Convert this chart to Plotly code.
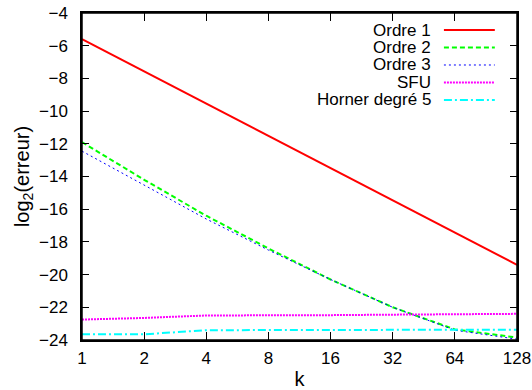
import plotly.graph_objects as go

k = [1, 2, 4, 8, 16, 32, 64, 128]
ordre1 = [-5.6, -7.57, -9.54, -11.51, -13.48, -15.45, -17.42, -19.4]
ordre2 = [-11.9, -14.2, -16.4, -18.4, -20.3, -22.0, -23.35, -23.85]
ordre3 = [-12.45, -14.55, -16.6, -18.5, -20.3, -22.0, -23.4, -23.95]
sfu = [-22.75, -22.65, -22.5, -22.5, -22.48, -22.45, -22.42, -22.4]
horner = [-23.65, -23.65, -23.4, -23.38, -23.38, -23.38, -23.38, -23.38]

names = ["Ordre 1", "Ordre 2", "Ordre 3", "SFU", "Horner degré 5"]
series = [ordre1, ordre2, ordre3, sfu, horner]
colors = ["#ff0000", "#00ff00", "#0000ff", "#ff00ff", "#00ffff"]
dashes = ["solid", "5px,3px", "2px,3px", "2px,1px", "8px,3px,2px,3px"]
widths = [2, 2, 1, 2, 2]

tick_vals = [1, 2, 4, 8, 16, 32, 64, 128]
tick_text = ["1", "2", "4", "8", "16", "32", "64", "128"]
y_ticks = [-24, -22, -20, -18, -16, -14, -12, -10, -8, -6, -4]

fig = go.Figure()
for name, ys, c, d, w in zip(names, series, colors, dashes, widths):
    fig.add_trace(go.Scatter(x=k, y=ys, mode="lines", name=name,
                             line=dict(color=c, dash=d, width=w), showlegend=False))

# manual gnuplot-style legend (text left, sample right)
leg_top = 0.948
step = 0.0535
for i, (name, c, d, w) in enumerate(zip(names, colors, dashes, widths)):
    yy = leg_top - i * step
    fig.add_annotation(xref="paper", yref="paper", x=0.807, y=yy, text=name,
                       showarrow=False, xanchor="right", yanchor="middle",
                       font=dict(size=17, color="#000000"))
    fig.add_shape(type="line", xref="paper", yref="paper",
                  x0=0.832, x1=0.949, y0=yy, y1=yy,
                  line=dict(color=c, dash=d, width=w))

# plot border
fig.add_shape(type="rect", xref="paper", yref="paper", x0=0, x1=1, y0=0, y1=1,
              line=dict(color="#000", width=1.5), layer="above")

fig.update_layout(
    width=532, height=390,
    margin=dict(l=82, r=15, t=13, b=50),
    plot_bgcolor="white", paper_bgcolor="white",
    font=dict(family="Liberation Sans, Arial, sans-serif", size=17, color="#000000"),
    xaxis=dict(type="log", range=[0, 2.10721], tickvals=tick_vals, ticktext=tick_text,
               ticks="inside", ticklen=8, tickcolor="#000", showline=True, linecolor="#000",
               linewidth=1.5, mirror="ticks", showgrid=False, zeroline=False,
               automargin=False, ticklabelstandoff=2,
               title=dict(text="k", standoff=15)),
    yaxis=dict(range=[-24, -4], tickvals=y_ticks, ticks="inside", ticklen=7, tickcolor="#000",
               showline=True, linecolor="#000", linewidth=1.5, mirror="ticks",
               showgrid=False, zeroline=False, ticklabelstandoff=9, automargin=False,
               title=dict(text="log<sub>2</sub>(erreur)", standoff=4)),
)

fig.write_html("out.html", config={"displayModeBar": False},
               post_script="document.body.style.margin='0px';document.body.style.overflow='hidden';")
